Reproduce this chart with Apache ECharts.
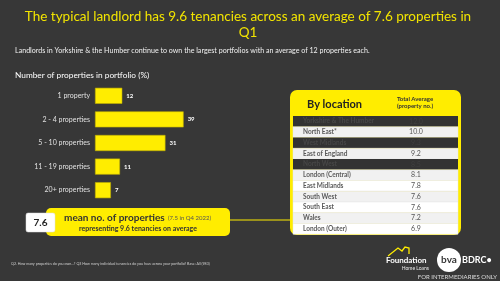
<!DOCTYPE html>
<html>
<head>
<meta charset="utf-8">
<script src="https://cdn.jsdelivr.net/npm/echarts@6/dist/echarts.min.js"></script>
<style>
html, body { margin: 0; padding: 0; background: #373737; }
#chart { width: 500px; height: 281px; }
</style>
</head>
<body>
<div id="chart"></div>
<script>
// portfolio size distribution (%)
var categories = ['1 property', '2 - 4 properties', '5 - 10 properties', '11 - 19 properties', '20+ properties'];
var shares = [12, 39, 31, 11, 7];

// by location table
var regions = ['Yorkshire & The Humber', 'North East*', 'West Midlands', 'East of England', 'North West',
    'London (Central)', 'East Midlands', 'South West', 'South East', 'Wales', 'London (Outer)'];
var regionAvg = ['12.0', '10.0', '9.3', '9.2', '8.5', '8.1', '7.8', '7.6', '7.6', '7.2', '6.9'];
var darkRows = [0, 2, 4]; // highlighted (dark) rows

var YELLOW = '#ffed00';
var FONT = 'Lato, "Open Sans", sans-serif';

var chart = echarts.init(document.getElementById('chart'));

// table rows built from the arrays
var tableEls = [];
var rowTop = 116, rowH = 10.75, tx = 293, tw = 165;
for (var i = 0; i < regions.length; i++) {
    var dark = darkRows.indexOf(i) >= 0;
    var y = rowTop + i * rowH;
    tableEls.push({
        type: 'rect', shape: { x: tx, y: y, width: tw, height: rowH },
        style: { fill: dark ? '#333333' : (i % 2 ? '#f1f1f1' : '#ffffff'), stroke: dark ? null : '#e6e6e6', lineWidth: 0.5 }
    });
    tableEls.push({
        type: 'text', x: 303, y: y + rowH / 2,
        style: { text: regions[i], fill: dark ? '#474747' : '#5a5a5a', font: 'bold 6.5px ' + FONT, verticalAlign: 'middle' }
    });
    tableEls.push({
        type: 'text', x: 416, y: y + rowH / 2,
        style: { text: regionAvg[i], fill: dark ? '#3f3f3f' : '#555555', font: '7px ' + FONT, align: 'center', verticalAlign: 'middle' }
    });
}

var option = {
    backgroundColor: '#373737',
    animation: false,
    grid: { left: 95, top: 84, width: 100, height: 118 },
    xAxis: { type: 'value', min: 0, max: 44, show: false },
    yAxis: {
        type: 'category', data: categories, inverse: true,
        axisLine: { show: false }, axisTick: { show: false },
        axisLabel: { color: '#e0e0e0', fontSize: 7, fontFamily: FONT, margin: 5 }
    },
    series: [{
        type: 'bar', data: shares, barWidth: '68%',
        itemStyle: { color: YELLOW, borderColor: '#bfae00', borderWidth: 0.6 },
        label: { show: true, position: 'right', color: '#ffffff', fontSize: 6, fontWeight: 'bold', fontFamily: FONT, distance: 4 }
    }],
    graphic: [
        { type: 'text', x: 248, y: 9, style: { text: 'The typical landlord has 9.6 tenancies across an average of 7.6 properties in\nQ1', fill: '#f2e400', font: '13.5px ' + FONT, align: 'center', lineHeight: 16 } },
        { type: 'text', x: 15, y: 47, style: { text: 'Landlords in Yorkshire & the Humber continue to own the largest portfolios with an average of 12 properties each.', fill: '#f0f0f0', font: '7.1px ' + FONT } },
        { type: 'text', x: 15, y: 71, style: { text: 'Number of properties in portfolio (%)', fill: '#ffffff', font: '8.3px ' + FONT } },

        // callout
        { type: 'line', shape: { x1: 228, y1: 220, x2: 292, y2: 220 }, style: { stroke: YELLOW, lineWidth: 1 } },
        { type: 'rect', shape: { x: 46, y: 208, width: 184, height: 28, r: 5 }, style: { fill: YELLOW } },
        { type: 'rect', shape: { x: 26, y: 213, width: 29, height: 19, r: 2 }, style: { fill: '#ffffff', stroke: '#dddddd', lineWidth: 0.5 } },
        { type: 'text', x: 40.5, y: 222.5, style: { text: '7.6', fill: '#222222', font: 'bold 10px ' + FONT, align: 'center', verticalAlign: 'middle' } },
        { type: 'text', x: 64, y: 218, style: { rich: { a: { fill: '#333333', font: 'bold 10px ' + FONT }, b: { fill: '#555555', font: '6px ' + FONT } }, text: '{a|mean no. of properties} {b|(7.5 in Q4 2022)}', verticalAlign: 'middle' } },
        { type: 'text', x: 138, y: 229, style: { text: 'representing 9.6 tenancies on average', fill: '#333333', font: 'bold 7px ' + FONT, align: 'center', verticalAlign: 'middle' } },

        // table frame
        { type: 'rect', shape: { x: 290, y: 90, width: 171, height: 145, r: 7 }, style: { fill: YELLOW } },
        { type: 'text', x: 307, y: 104, style: { text: 'By location', fill: '#222222', font: 'bold 11px ' + FONT, verticalAlign: 'middle' } },
        { type: 'text', x: 415, y: 103, style: { text: 'Total Average\n(property no.)', fill: '#333333', font: 'bold 6px ' + FONT, align: 'center', verticalAlign: 'middle', lineHeight: 7 } }
    ].concat(tableEls).concat([
        // footnote
        { type: 'text', x: 11, y: 264, style: { text: 'Q2. How many properties do you own...? Q3 How many individual tenancies do you have across your portfolio? Base: All (983)', fill: '#cfcfcf', font: '3.6px ' + FONT, verticalAlign: 'middle' } },
        // logos
        { type: 'polyline', shape: { points: [[388, 256], [398, 248], [402, 251], [405, 247], [409, 248], [409, 254]] }, style: { stroke: YELLOW, lineWidth: 1.3, fill: null } },
        { type: 'text', x: 386, y: 260, style: { text: 'Foundation', fill: '#ffffff', font: 'bold 8px ' + FONT, verticalAlign: 'middle' } },
        { type: 'text', x: 429, y: 268, style: { text: 'Home Loans', fill: '#e8e8e8', font: '5px ' + FONT, align: 'right', verticalAlign: 'middle' } },
        { type: 'circle', shape: { cx: 449, cy: 260, r: 12 }, style: { fill: '#ffffff' } },
        { type: 'text', x: 449, y: 260, style: { text: 'bva', fill: '#373737', font: 'bold 10px ' + FONT, align: 'center', verticalAlign: 'middle' } },
        { type: 'text', x: 462, y: 260, style: { text: 'BDRC•', fill: '#ffffff', font: 'bold 9px ' + FONT, verticalAlign: 'middle' } },
        { type: 'text', x: 497, y: 277, style: { text: 'FOR INTERMEDIARIES ONLY', fill: '#dddddd', font: '6px ' + FONT, align: 'right', verticalAlign: 'middle' } }
    ])
};
chart.setOption(option);
</script>
</body>
</html>
